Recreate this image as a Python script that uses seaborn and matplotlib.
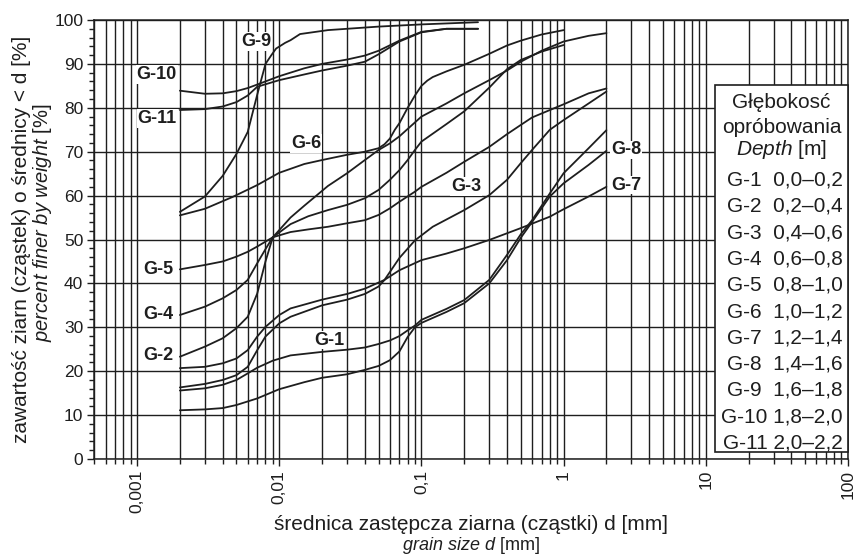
import numpy as np
import pandas as pd
import matplotlib
matplotlib.use("Agg")
import matplotlib.pyplot as plt
import seaborn as sns
from matplotlib.ticker import LogLocator, MultipleLocator, NullFormatter
from matplotlib.patches import Rectangle

# ---------------- values ----------------
# d [mm] and percent finer for every sample
x_g1 = [0.002, 0.003, 0.004, 0.005, 0.006, 0.007, 0.009, 0.012, 0.02, 0.03, 0.04, 0.05, 0.06, 0.07, 0.08, 0.09,
        0.1, 0.15, 0.2, 0.3, 0.4, 0.5, 0.6, 0.8, 1.0, 1.5, 2.0]
y_g1 = [15.6, 16.1, 16.9, 18.0, 19.5, 20.8, 22.4, 23.6, 24.4, 24.9, 25.4, 26.2, 27.0, 28.0, 29.3, 30.4,
        31.7, 34.2, 36.2, 40.8, 46.5, 51.2, 54.4, 60.5, 65.1, 70.8, 74.9]

x_g2 = [0.002, 0.003, 0.004, 0.005, 0.006, 0.007, 0.008, 0.009, 0.012, 0.015, 0.022, 0.03, 0.04, 0.05, 0.06,
        0.07, 0.1, 0.15, 0.2, 0.3, 0.4, 0.5, 0.7, 1.0, 1.5, 2.0]
y_g2 = [23.3, 25.6, 27.5, 29.8, 32.4, 37.7, 45.0, 50.5, 55.0, 57.7, 62.2, 65.1, 68.1, 70.4, 71.9,
        73.5, 78.0, 81.0, 83.3, 86.3, 88.5, 90.5, 93.0, 95.1, 96.4, 97.0]

x_g3 = [0.002, 0.003, 0.004, 0.005, 0.006, 0.007, 0.008, 0.01, 0.012, 0.02, 0.03, 0.04, 0.05, 0.055, 0.07,
        0.09, 0.12, 0.2, 0.3, 0.4, 0.5, 0.6, 0.8, 1.0, 1.5, 2.0]
y_g3 = [20.7, 21.0, 21.8, 22.9, 24.8, 27.9, 30.1, 32.8, 34.3, 36.3, 37.6, 38.8, 40.2, 40.8, 45.8,
        49.8, 52.9, 56.7, 60.1, 63.6, 67.4, 70.4, 75.0, 77.2, 81.0, 83.7]

x_g4 = [0.002, 0.003, 0.004, 0.005, 0.006, 0.007, 0.008, 0.009, 0.012, 0.016, 0.022, 0.03, 0.04, 0.05, 0.06,
        0.07, 0.08, 0.09, 0.1, 0.15, 0.2, 0.3, 0.4, 0.5, 0.7, 1.0]
y_g4 = [32.8, 34.7, 36.6, 38.5, 40.8, 44.6, 47.8, 50.5, 53.5, 55.3, 56.7, 57.9, 59.4, 61.3, 63.6,
        65.8, 68.1, 70.4, 72.3, 76.3, 79.2, 84.6, 88.8, 90.9, 92.8, 94.3]

x_g5 = [0.002, 0.003, 0.004, 0.005, 0.006, 0.007, 0.009, 0.012, 0.016, 0.022, 0.03, 0.04, 0.05, 0.06, 0.07,
        0.09, 0.1, 0.15, 0.2, 0.3, 0.4, 0.5, 0.6, 1.0, 1.5, 2.0]
y_g5 = [43.2, 44.2, 45.0, 46.1, 47.2, 48.4, 50.5, 51.7, 52.3, 52.9, 53.7, 54.4, 55.6, 57.1, 58.6,
        60.9, 62.0, 65.2, 67.7, 71.1, 74.0, 76.1, 77.8, 80.8, 83.3, 84.4]

x_g6 = [0.002, 0.003, 0.0047, 0.007, 0.01, 0.015, 0.02, 0.03, 0.04, 0.05, 0.055, 0.06, 0.065, 0.07, 0.08,
        0.09, 0.1, 0.11, 0.12, 0.15, 0.2, 0.3, 0.4, 0.5, 0.7, 1.0]
y_g6 = [55.5, 57.0, 59.7, 62.4, 65.2, 67.2, 68.1, 69.3, 70.0, 70.8, 71.7, 73.0, 75.0, 76.5, 80.0,
        82.8, 85.0, 86.2, 87.0, 88.3, 89.8, 92.3, 94.2, 95.3, 96.7, 97.7]

x_g7 = [0.002, 0.003, 0.004, 0.005, 0.006, 0.007, 0.008, 0.01, 0.012, 0.02, 0.03, 0.04, 0.05, 0.055, 0.07,
        0.1, 0.15, 0.2, 0.3, 0.5, 0.8, 1.0, 1.5, 2.0]
y_g7 = [16.3, 17.1, 18.0, 19.1, 21.0, 24.8, 27.9, 30.9, 32.4, 35.0, 36.3, 37.6, 39.3, 40.8, 43.0,
        45.3, 46.8, 48.0, 49.9, 52.6, 55.2, 56.9, 59.8, 62.0]

x_g8 = [0.002, 0.003, 0.004, 0.005, 0.007, 0.01, 0.015, 0.02, 0.03, 0.04, 0.05, 0.06, 0.07, 0.08, 0.09,
        0.1, 0.15, 0.2, 0.3, 0.4, 0.5, 0.6, 0.8, 1.0, 1.5, 2.0]
y_g8 = [11.1, 11.3, 11.6, 12.3, 13.8, 15.9, 17.5, 18.5, 19.3, 20.3, 21.2, 22.5, 24.5, 27.8, 30.0,
        31.0, 33.5, 35.5, 40.0, 45.3, 50.4, 54.0, 59.8, 62.8, 67.0, 70.2]

x_g9 = [0.002, 0.003, 0.004, 0.005, 0.006, 0.007, 0.008, 0.0088, 0.0095, 0.011, 0.012, 0.014, 0.022, 0.05,
        0.1, 0.25]
y_g9 = [56.3, 59.8, 64.5, 69.5, 74.5, 83.0, 90.0, 92.0, 93.5, 94.8, 95.4, 96.8, 97.7, 98.5,
        99.0, 99.5]

x_g10 = [0.002, 0.003, 0.004, 0.005, 0.006, 0.007, 0.01, 0.015, 0.02, 0.03, 0.04, 0.05, 0.07, 0.1, 0.15, 0.25]
y_g10 = [83.9, 83.2, 83.3, 83.8, 84.5, 85.3, 87.2, 89.0, 90.0, 91.0, 91.9, 93.0, 95.3, 97.3, 98.0, 98.0]

x_g11 = [0.002, 0.003, 0.004, 0.005, 0.006, 0.007, 0.01, 0.015, 0.02, 0.03, 0.04, 0.05, 0.07, 0.1, 0.15, 0.25]
y_g11 = [79.5, 79.7, 80.3, 81.3, 82.8, 84.8, 86.3, 87.6, 88.5, 89.6, 90.5, 92.2, 95.1, 97.2, 98.0, 98.0]

sample_names = ["G-1", "G-2", "G-3", "G-4", "G-5", "G-6", "G-7", "G-8", "G-9", "G-10", "G-11"]
depth_ranges = ["0,0–0,2", "0,2–0,4", "0,4–0,6", "0,6–0,8", "0,8–1,0", "1,0–1,2",
                "1,2–1,4", "1,4–1,6", "1,6–1,8", "1,8–2,0", "2,0–2,2"]

x_ticks = [0.001, 0.01, 0.1, 1, 10, 100]
x_tick_labels = ["0,001", "0,01", "0,1", "1", "10", "100"]
y_ticks = list(range(0, 101, 10))

curves = [(x_g1, y_g1), (x_g2, y_g2), (x_g3, y_g3), (x_g4, y_g4), (x_g5, y_g5), (x_g6, y_g6),
          (x_g7, y_g7), (x_g8, y_g8), (x_g9, y_g9), (x_g10, y_g10), (x_g11, y_g11)]

rows = []
for name, (xs, ys) in zip(sample_names, curves):
    for xv, yv in zip(xs, ys):
        rows.append({"sample": name, "d": xv, "pct": yv})
df = pd.DataFrame(rows)

# ---------------- style ----------------
sns.set_theme(style="white")
plt.rcParams["font.family"] = ["Liberation Sans", "DejaVu Sans"]
plt.rcParams["mathtext.fontset"] = "custom"
plt.rcParams["mathtext.rm"] = "Liberation Sans"
plt.rcParams["mathtext.it"] = "Liberation Sans:italic"

ink = "#1e1e1e"
fig = plt.figure(figsize=(8.58, 5.59), dpi=100)
ax = fig.add_axes([0.1099, 0.1789, 0.8784, 0.7853])
ax.set_xscale("log")

sns.lineplot(data=df, x="d", y="pct", units="sample", estimator=None, sort=False,
             color=ink, linewidth=1.3, legend=False, ax=ax,
             solid_joinstyle="round", solid_capstyle="round")

ax.set_xlim(0.0005, 100)
ax.set_ylim(0, 100)
ax.set_xticks(x_ticks, x_tick_labels, rotation=90)
ax.xaxis.set_minor_locator(LogLocator(base=10, subs=np.arange(2, 10), numticks=50))
ax.xaxis.set_minor_formatter(NullFormatter())
ax.set_yticks(y_ticks)
ax.yaxis.set_minor_locator(MultipleLocator(2))

ax.grid(which="major", color=ink, linewidth=1.0)
ax.grid(which="minor", axis="x", color=ink, linewidth=1.0)
ax.set_axisbelow(True)
ax.tick_params(which="both", bottom=True, left=True, direction="out", color=ink, width=1.0)
ax.tick_params(which="major", length=5, labelsize=12.5, pad=3, labelcolor=ink)
ax.tick_params(which="minor", length=3.5)
for sp in ax.spines.values():
    sp.set_color(ink)
    sp.set_linewidth(1.1)
ax.set_xlabel("")
ax.set_ylabel("")

# sample labels on the curves
lab = dict(fontsize=13, fontweight="bold", color=ink, va="center", zorder=4,
           bbox=dict(facecolor="white", edgecolor="none", pad=0.6))
ax.text(0.0019, 87.5, "G-10", ha="right", **lab)
ax.text(0.0019, 77.6, "G-11", ha="right", **lab)
ax.text(0.00179, 43.1, "G-5", ha="right", **lab)
ax.text(0.00179, 33.0, "G-4", ha="right", **lab)
ax.text(0.00179, 23.5, "G-2", ha="right", **lab)
ax.text(0.00686, 95.1, "G-9", ha="center", **lab)
ax.text(0.0154, 71.8, "G-6", ha="center", **lab)
ax.text(0.0224, 27.1, "G-1", ha="center", **lab)
ax.text(0.206, 62.0, "G-3", ha="center", **lab)
ax.text(2.15, 70.4, "G-8", ha="left", **lab)
ax.text(2.15, 62.4, "G-7", ha="left", **lab)

# depth table box
box_x0, box_y0, box_y1 = 0.8235, 0.016, 0.852
ax.add_patch(Rectangle((box_x0, box_y0), 1 - box_x0, box_y1 - box_y0, transform=ax.transAxes,
                       facecolor="white", edgecolor=ink, linewidth=1.2, zorder=5, clip_on=False))
cx = 0.912
ax.text(cx, 0.813, "Głębokosć", transform=ax.transAxes, ha="center", va="center", fontsize=15, color=ink, zorder=6)
ax.text(cx, 0.755, "opróbowania", transform=ax.transAxes, ha="center", va="center", fontsize=15, color=ink, zorder=6)
ax.text(cx, 0.704, r"$\mathit{Depth}$ [m]", transform=ax.transAxes, ha="center", va="center", fontsize=15,
        color=ink, zorder=6)
for i, (name, dr) in enumerate(zip(sample_names, depth_ranges)):
    ypos = (459 - (180 + 26.3 * i)) / 439
    ax.text(0.9934, ypos, f"{name:<4} {dr}", transform=ax.transAxes, ha="right", va="center",
            fontsize=15, color=ink, zorder=6)

# axis titles
fig.text(0.025, 0.571, "zawartość ziarn (cząstek) o średnicy < d [%]", rotation=90,
         ha="center", va="center", fontsize=15, color=ink)
fig.text(0.049, 0.602, r"$\mathit{percent\ finer\ by\ weight}$ [%]", rotation=90,
         ha="center", va="center", fontsize=14.5, color=ink)
fig.text(0.549, 0.061, "średnica zastępcza ziarna (cząstki) d [mm]", ha="center", va="center",
         fontsize=15, color=ink)
fig.text(0.549, 0.025, r"$\mathit{grain\ size\ d}$ [mm]", ha="center", va="center", fontsize=13, color=ink)

fig.savefig("out.png", dpi=100)
